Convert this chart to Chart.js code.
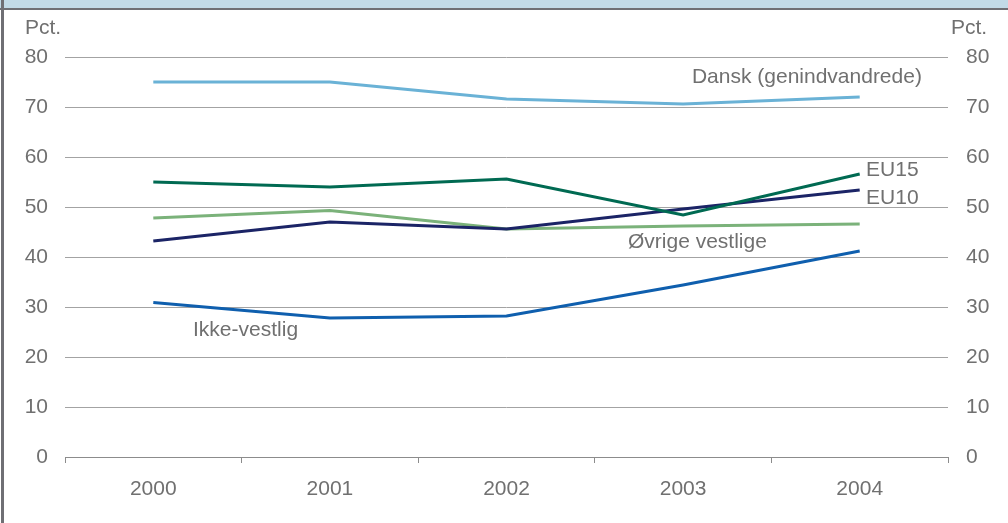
<!DOCTYPE html>
<html>
<head>
<meta charset="utf-8">
<script src="https://cdn.jsdelivr.net/npm/chart.js@4/dist/chart.umd.min.js"></script>
<style>
  html, body { margin: 0; padding: 0; background: #fff; }
  #wrap { position: relative; width: 1008px; height: 523px; overflow: hidden; }
  #c { position: absolute; left: 0; top: 0; }
  #band { position: absolute; left: 0; top: 0; width: 1008px; height: 8px; background: #c2dae7; }
  #bandline { position: absolute; left: 0; top: 8px; width: 1008px; height: 2px; background: #6f6f74; }
  #leftline { position: absolute; left: 1px; top: 0; width: 3px; height: 523px; background: #6f6f74; }
</style>
</head>
<body>
<div id="wrap">
  <canvas id="c" width="1008" height="523"></canvas>
  <div id="band"></div>
  <div id="bandline"></div>
  <div id="leftline"></div>
</div>
<script>
const years = ['2000', '2001', '2002', '2003', '2004'];
const yTicks = [0, 10, 20, 30, 40, 50, 60, 70, 80];
const dansk = [75, 75, 71.6, 70.6, 72];
const eu15 = [55, 54, 55.6, 48.4, 56.6];
const eu10 = [43.2, 47, 45.6, 49.6, 53.4];
const ovrige = [47.8, 49.3, 45.6, 46.2, 46.6];
const ikke = [30.9, 27.8, 28.2, 34.4, 41.2];
const seriesNames = ['Dansk (genindvandrede)', 'EU15', 'EU10', 'Øvrige vestlige', 'Ikke-vestlig'];

const FONT = '"Liberation Sans", Arial, sans-serif';
const TXT = '#707070';

// line label anchors in data coordinates (category index, value)
const labelAnchors = [
  { text: seriesNames[0], x: 3.05, y: 76 },
  { text: seriesNames[1], x: 4.036, y: 57.4 },
  { text: seriesNames[2], x: 4.036, y: 51.8 },
  { text: seriesNames[3], x: 2.688, y: 43 },
  { text: seriesNames[4], x: 0.225, y: 25.4 }
];

const labelPlugin = {
  id: 'labels',
  afterDatasetsDraw(chart) {
    const ctx = chart.ctx;
    const xs = chart.scales.x, ys = chart.scales.y;
    ctx.save();
    ctx.font = '21px ' + FONT;
    ctx.fillStyle = TXT;
    ctx.textBaseline = 'middle';
    ctx.textAlign = 'left';
    labelAnchors.forEach(a => {
      ctx.fillText(a.text, xs.getPixelForValue(a.x), ys.getPixelForValue(a.y));
    });
    ctx.fillText('Pct.', 25, 28);
    ctx.fillText('Pct.', 951, 28);
    ctx.restore();
  }
};

const mk = (label, data, color) => ({
  label, data, borderColor: color, backgroundColor: color,
  borderWidth: 3, pointRadius: 0, tension: 0, fill: false, yAxisID: 'y'
});

new Chart(document.getElementById('c'), {
  type: 'line',
  data: {
    labels: years,
    datasets: [
      mk(seriesNames[0], dansk, '#6ab2d6'),
      mk(seriesNames[1], eu15, '#006a52'),
      mk(seriesNames[2], eu10, '#1b2466'),
      mk(seriesNames[3], ovrige, '#7bb27a'),
      mk(seriesNames[4], ikke, '#0f5fae')
    ]
  },
  options: {
    responsive: false,
    animation: false,
    events: [],
    layout: { padding: { top: 57, left: 0, right: 0, bottom: 0 } },
    plugins: { legend: { display: false }, tooltip: { enabled: false } },
    scales: {
      x: {
        type: 'category',
        offset: true,
        grid: { offset: true, drawOnChartArea: false, drawTicks: true, tickLength: 6, color: '#8c8c8c', lineWidth: 1 },
        border: { display: true, color: '#8c8c8c', width: 1 },
        ticks: { color: TXT, font: { family: FONT, size: 21 }, padding: 14, maxRotation: 0 },
        afterFit(s) { s.height = 66; }
      },
      y: {
        position: 'left',
        min: 0, max: 80,
        afterBuildTicks(s) { s.ticks = yTicks.map(v => ({ value: v })); },
        grid: { drawTicks: false, color: '#a3a3a3', lineWidth: 1 },
        border: { display: false },
        ticks: { color: TXT, font: { family: FONT, size: 21 }, padding: 17 },
        afterFit(s) { s.width = 65; }
      },
      y2: {
        position: 'right',
        min: 0, max: 80,
        afterBuildTicks(s) { s.ticks = yTicks.map(v => ({ value: v })); },
        grid: { display: false, drawTicks: false },
        border: { display: false },
        ticks: { color: TXT, font: { family: FONT, size: 21 }, padding: 18 },
        afterFit(s) { s.width = 60; }
      }
    }
  },
  plugins: [labelPlugin]
});
</script>
</body>
</html>
